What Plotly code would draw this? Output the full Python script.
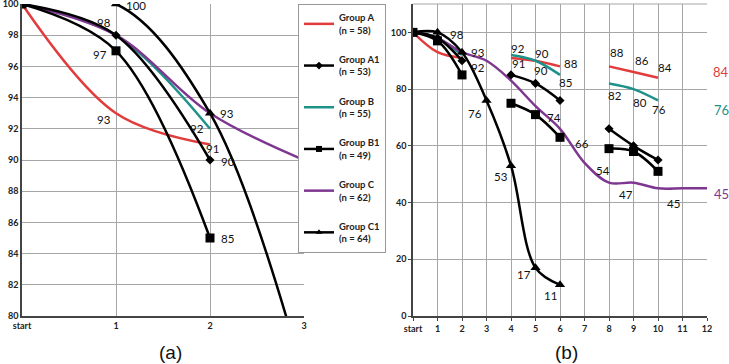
import plotly.graph_objects as go

# ---------------- data ----------------
x_a = [0, 1, 2, 3]
a_A = [100, 93, 91, None]
a_A1 = [100, 98, 90, None]
a_B = [100, 98, 92, None]
a_B1 = [100, 97, 85, None]
a_C = [100, 98, 93, 90]
a_C1 = [100, 100, 93, 76]

x_b = list(range(13))
b_A = [100, 93, 91, None, 91, 90, 88, None, 88, 86, 84, None, None]
b_A1 = [100, 98, 90, None, 85, 82, 76, None, 66, 60, 55, None, None]
b_B = [100, 98, 92, None, 92, 90, 85, None, 82, 80, 76, None, None]
b_B1 = [100, 97, 85, None, 75, 71, 63, None, 59, 58, 51, None, None]
b_C = [100, 98, 93, 90, 83, 74, 66, 54, 47, 47, 45, 45, 45]
b_C1 = [100, 100, 93, 76, 53, 17, 11, None, None, None, None, None, None]

names = ["Group A", "Group A1", "Group B", "Group B1", "Group C", "Group C1"]
ns = [58, 53, 55, 49, 62, 64]
ticks_a = ["start", "1", "2", "3"]
ticks_b = ["start"] + [str(i) for i in range(1, 13)]
y_ticks_a = list(range(80, 101, 2))
y_ticks_b = list(range(0, 101, 20))
end_labels = [("A", 84), ("B", 76), ("C", 45)]

# ---------------- styles ----------------
RED, TEAL, PURPLE, BLACK = "#e23b3b", "#1e9189", "#7e3790", "#000000"
style = {
    "Group A": dict(color=RED, marker=None),
    "Group A1": dict(color=BLACK, marker="diamond"),
    "Group B": dict(color=TEAL, marker=None),
    "Group B1": dict(color=BLACK, marker="square"),
    "Group C": dict(color=PURPLE, marker=None),
    "Group C1": dict(color=BLACK, marker="triangle-up"),
}
msize = {"diamond": 7, "square": 9, "triangle-up": 9}

series_a = dict(zip(names, [a_A, a_A1, a_B, a_B1, a_C, a_C1]))
series_b = dict(zip(names, [b_A, b_A1, b_B, b_B1, b_C, b_C1]))

fig = go.Figure()


def add(x, y, name, xa, ya):
    st = style[name]
    mode = "lines+markers" if st["marker"] else "lines"
    kw = {}
    if st["marker"]:
        kw["marker"] = dict(symbol=st["marker"], size=msize[st["marker"]], color=BLACK)
    fig.add_trace(go.Scatter(
        x=x, y=y, mode=mode, name=name,
        line=dict(color=st["color"], width=2.5, shape="spline", smoothing=1.0),
        connectgaps=False, xaxis=xa, yaxis=ya, showlegend=False,
        legendgroup=name, hoverinfo="skip", **kw))


# draw coloured first, black on top
order = ["Group A", "Group B", "Group C", "Group A1", "Group B1", "Group C1"]
for nm in order:
    add(x_a, series_a[nm], nm, "x", "y")
for nm in order:
    add(x_b, series_b[nm], nm, "x2", "y2")
# legend entries (in original order)
for nm, n in zip(names, ns):
    st = style[nm]
    kw = {}
    if st["marker"]:
        kw["marker"] = dict(symbol=st["marker"], size=6, color=BLACK)
    fig.add_trace(go.Scatter(
        x=[None], y=[None], mode="lines+markers" if st["marker"] else "lines",
        name=f"{nm}<br>(n = {n})", line=dict(color=st["color"], width=2.5),
        xaxis="x", yaxis="y", showlegend=True, legendgroup=nm, **kw))

key = {"A": "Group A", "A1": "Group A1", "B": "Group B", "B1": "Group B1",
       "C": "Group C", "C1": "Group C1"}

# data labels: (series, index, xshift, yshift)
labels_a = [
    ("C1", 1, 20, -2), ("A1", 1, -12, 13), ("B1", 1, -16, -4), ("A", 1, -12, -6),
    ("C", 2, 17, 0), ("B", 2, -13, 0), ("A", 2, 2, -4), ("A1", 2, 18, -1),
    ("B1", 2, 17, 0),
]
labels_b = [
    ("A1", 1, 19, 4), ("C", 2, 16, 0), ("B", 2, 16, -12), ("C1", 3, -12, -13),
    ("C1", 4, -10, -11), ("C1", 5, -12, -7), ("C1", 6, -10, -11),
    ("B", 4, 7, 7), ("A", 4, 7, -6), ("B", 5, 6, 7), ("A", 5, 5, -10),
    ("A", 6, 11, 3), ("B", 6, 5, -8), ("C", 5, 18, -11), ("C", 6, 22, -15),
    ("C", 7, 18, -8), ("C", 9, -8, -12), ("C", 10, 15, -15),
    ("A", 8, 8, 14), ("A", 9, 8, 12), ("A", 10, 7, 10),
    ("B", 8, 6, -12), ("B", 9, 6, -13), ("B", 10, 1, -9),
]

LABEL_FONT = dict(family="Lato", size=11.5, color="#111")
ann = []
for s, i, dx, dy in labels_a:
    v = series_a[key[s]][i]
    ann.append(dict(x=x_a[i], y=v, xref="x", yref="y", text=str(v), showarrow=False,
                    xshift=dx, yshift=dy, font=LABEL_FONT))
for s, i, dx, dy in labels_b:
    v = series_b[key[s]][i]
    ann.append(dict(x=x_b[i], y=v, xref="x2", yref="y2", text=str(v), showarrow=False,
                    xshift=dx, yshift=dy, font=LABEL_FONT))
end_shift = {"A": 6, "B": -10, "C": -6}
for s, v in end_labels:
    ann.append(dict(x=12, y=v, xref="x2", yref="y2", text=str(v), showarrow=False,
                    xshift=14, yshift=end_shift[s],
                    font=dict(family="Lato", size=13, color=style[key[s]]["color"])))
for lbl, px in (("(a)", 170), ("(b)", 566)):
    ann.append(dict(x=px / 729, y=1 - 352 / 364, xref="paper", yref="paper", text=lbl,
                    xanchor="center", yanchor="middle", showarrow=False,
                    font=dict(family="Liberation Sans", size=19, color="#111")))

GRID = "#a6a6a6"
tickfont = dict(family="Lato", size=9, color="#222", weight="bold")
ydom = [1 - 316 / 364, 1 - 4 / 364]
common = dict(automargin=False, zeroline=False, showgrid=True, gridcolor=GRID, gridwidth=1,
              showline=True, linecolor="#444", linewidth=1.5, tickfont=tickfont,
              ticklabeloverflow="allow")

fig.update_layout(
    template="none",
    width=729, height=364, margin=dict(l=0, r=0, t=0, b=0, autoexpand=False),
    paper_bgcolor="white", plot_bgcolor="white",
    xaxis=dict(domain=[22 / 729, 304 / 729], range=[0, 3], tickvals=x_a, ticktext=ticks_a,
               ticks="", **common),
    yaxis=dict(domain=ydom, range=[80, 100], tickvals=y_ticks_a, ticks="", **common),
    xaxis2=dict(domain=[413 / 729, 707 / 729], range=[0, 12], tickvals=x_b, ticktext=ticks_b,
                anchor="y2", ticks="outside", ticklen=3, tickcolor="#444", **common),
    yaxis2=dict(domain=ydom, range=[0, 110], tickvals=y_ticks_b, anchor="x2",
                ticks="outside", ticklen=3, tickcolor="#444", **common),
    legend=dict(x=298 / 729, y=1 - 4 / 364, xanchor="left", yanchor="top",
                bgcolor="white", bordercolor="#999", borderwidth=1,
                font=dict(family="Lato", size=9.5, color="#222", weight="bold"), itemwidth=30,
                tracegroupgap=14, traceorder="grouped"),
    annotations=ann,
    shapes=[dict(type="line", xref="x2 domain", yref="y2 domain", x0=0, x1=1, y0=1, y1=1,
                 line=dict(color=GRID, width=1))],
    showlegend=True,
)

fig.write_html("out.html", config={"displayModeBar": False},
               post_script="document.body.style.margin='0';")
